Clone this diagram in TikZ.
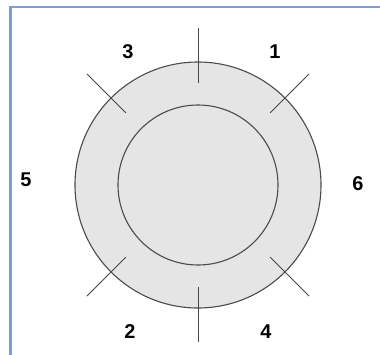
\documentclass[tikz,border=0pt]{standalone}
\usepackage{fontspec}
\setmainfont{Liberation Sans}
\usetikzlibrary{calc}
\definecolor{frameblue}{RGB}{125,158,212}
\definecolor{ringfill}{RGB}{229,229,229}
\definecolor{ringline}{RGB}{75,75,75}
\definecolor{tickline}{RGB}{70,70,70}
\begin{document}
\begin{tikzpicture}[x=1bp,y=-1bp,
  ring/.style={circle,draw=ringline,line width=1.1bp,fill=ringfill,inner sep=0pt},
  tickmark/.style={draw=tickline,line width=0.9bp},
  lbl/.style={font=\bfseries\fontsize{20}{20}\selectfont,inner sep=0pt}]
\useasboundingbox (0,0) rectangle (380,355);
\fill[white] (0,0) rectangle (380,355);
\draw[frameblue,line width=2.5bp] (10.5,360) -- (10.5,7) -- (385,7);
\coordinate (c) at (198,185);
\node[ring,minimum size=246bp] (outer) at (c) {};
\node[ring,minimum size=160bp] (inner) at (c) {};
\foreach \a in {90,45,135,225,270,315}{
  \draw[tickmark] ($(c)+(\a:102)$) -- ($(c)+(\a:157)$);
}
\node[lbl] (l3) at (128,52) {3};
\node[lbl] (l1) at (275,52) {1};
\node[lbl] (l5) at (26,180) {5};
\node[lbl] (l6) at (358,184) {6};
\node[lbl] (l2) at (130,332) {2};
\node[lbl] (l4) at (266,332) {4};
\end{tikzpicture}
\end{document}
